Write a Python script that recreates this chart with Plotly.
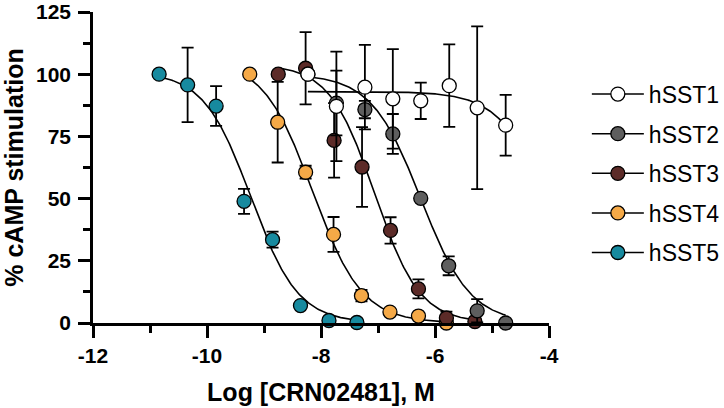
import numpy as np
import plotly.graph_objects as go

# receptors, drawn bottom to top in reverse order (hSST1 on top)
names = ["hSST1", "hSST2", "hSST3", "hSST4", "hSST5"]
colors = ["#FFFFFF", "#5E5E5E", "#5C2B28", "#F5A947", "#178A9F"]

# log concentration of each point
x_sst1 = [-8.23, -7.73, -7.23, -6.74, -6.25, -5.75, -5.26, -4.76]
x_sst2 = [-8.23, -7.73, -7.23, -6.74, -6.25, -5.76, -5.26, -4.76]
x_sst3 = [-8.75, -8.27, -7.77, -7.28, -6.78, -6.29, -5.80, -5.30]
x_sst4 = [-9.25, -8.76, -8.27, -7.78, -7.29, -6.79, -6.29, -5.80]
x_sst5 = [-10.84, -10.34, -9.84, -9.35, -8.85, -8.36, -7.86, -7.37]

# % cAMP stimulation (mean) and error
y_sst1 = [100, 87.1, 94.8, 90.1, 89.3, 95.4, 86.5, 79.5]
e_sst1 = [0, 22, 17, 20, 7.3, 16.6, 32.7, 12.2]
y_sst2 = [100, 88.4, 85.8, 76.0, 50.1, 23.0, 4.9, 0.0]
e_sst2 = [0, 13, 3.5, 8, 0, 3.8, 4.7, 0]
y_sst3 = [100, 102.4, 73.4, 62.7, 37.2, 13.7, 2.0, 0.6]
e_sst3 = [0, 14.5, 15, 16, 5.3, 3.8, 2.6, 1.0]
y_sst4 = [100, 80.7, 60.6, 35.6, 11.0, 4.4, 2.8, 0.0]
e_sst4 = [0, 16.2, 2.6, 7, 2.3, 0, 0, 0]
y_sst5 = [100, 95.7, 87.2, 48.9, 33.5, 7.0, 1.0, 0.2]
e_sst5 = [0, 15, 8, 5, 3.2, 0, 0, 0]

# fitted sigmoid parameters: top, bottom, logIC50, hill slope
fit_top = [93, 100, 104, 106, 101]
fit_bottom = [0, 0, 0, 0, 0]
fit_logic50 = [-4.0, -6.25, -7.06, -8.15, -9.23]
fit_hill = [1.0, 1.0, 1.1, 1.0, 1.05]

xs = [x_sst1, x_sst2, x_sst3, x_sst4, x_sst5]
ys = [y_sst1, y_sst2, y_sst3, y_sst4, y_sst5]
es = [e_sst1, e_sst2, e_sst3, e_sst4, e_sst5]

fig = go.Figure()

for i in reversed(range(5)):
    xc = np.linspace(min(xs[i]), max(xs[i]), 200)
    yc = fit_bottom[i] + (fit_top[i] - fit_bottom[i]) / (1 + 10 ** ((xc - fit_logic50[i]) * fit_hill[i]))
    fig.add_trace(go.Scatter(x=xc, y=yc, mode="lines", line=dict(color="black", width=1.6),
                             showlegend=False, hoverinfo="skip", cliponaxis=False))
    fig.add_trace(go.Scatter(
        x=xs[i], y=ys[i], mode="markers", showlegend=False, cliponaxis=False,
        marker=dict(size=14, color=colors[i], line=dict(color="black", width=1.3)),
        error_y=dict(type="data", array=es[i], color="black", thickness=1.8, width=6),
    ))

# legend entries
for i in range(5):
    fig.add_trace(go.Scatter(
        x=[None], y=[None], mode="lines+markers", name=names[i], legendgroup=names[i],
        line=dict(color="black", width=1.5),
        marker=dict(size=14, color=colors[i], line=dict(color="black", width=1.3)),
    ))

bold = dict(family="Liberation Sans, Arial", size=21, color="black", weight="bold")
title_font = dict(family="Liberation Sans, Arial", size=25, color="black", weight="bold")

fig.update_xaxes(
    range=[-12, -4], tickmode="array", tickvals=[-12, -10, -8, -6, -4],
    ticktext=["-12", "-10", "-8", "-6", "-4"], automargin=False, ticklabeloverflow="allow",
    showgrid=False, zeroline=False, showline=True, linecolor="black", linewidth=2.6,
    ticks="outside", ticklen=12, tickwidth=2.6, tickcolor="black", tickfont=bold,
    minor=dict(ticks="outside", ticklen=7, tickwidth=2.6, tickcolor="black", tickvals=[-11, -9, -7, -5]),
    title=dict(text="Log [CRN02481], M", font=title_font, standoff=18),
)
fig.update_yaxes(
    range=[0, 125], tickmode="array", tickvals=[0, 25, 50, 75, 100, 125],
    ticktext=["0", "25", "50", "75", "100", "125"], automargin=False, ticklabeloverflow="allow",
    showgrid=False, zeroline=False, showline=True, linecolor="black", linewidth=2.6,
    ticks="outside", ticklen=12, tickwidth=2.6, tickcolor="black", tickfont=bold,
    ticklabelstandoff=3,
    minor=dict(ticks="outside", ticklen=7, tickwidth=2.6, tickcolor="black",
               tickvals=[12.5, 37.5, 62.5, 87.5, 112.5]),
    title=dict(text="% cAMP stimulation", font=title_font, standoff=11),
)

fig.update_layout(
    width=724, height=408,
    margin=dict(l=92.5, r=175, t=11.5, b=84.7, autoexpand=False),
    plot_bgcolor="white", paper_bgcolor="white",
    legend=dict(x=1.083, y=0.805, xanchor="left", yanchor="top", traceorder="grouped",
                tracegroupgap=6.7, itemwidth=52,
                font=dict(family="Liberation Sans, Arial", size=23, color="black")),
)

# drop the page's default 8px body margin so the figure sits at the window origin
fig.write_html("out.html", config={"displayModeBar": False},
               post_script="document.body.style.margin='0';")
